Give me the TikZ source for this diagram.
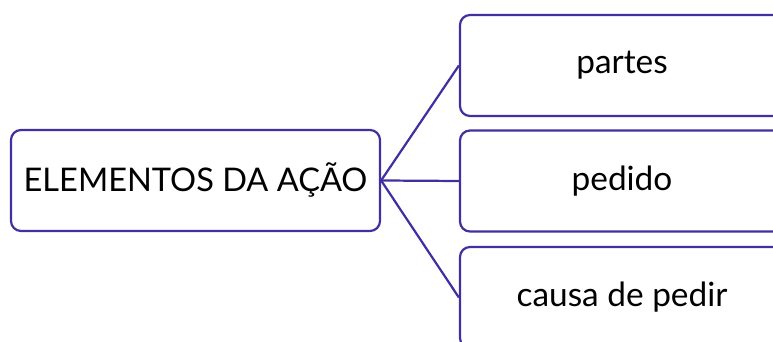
\documentclass[tikz,border=0pt]{standalone}
\usepackage{fontspec}
\setmainfont{Lato}
\usepackage{tikz}
\definecolor{roxo}{RGB}{64,48,160}
\tikzset{
  caixa/.style={shape=rectangle,draw=roxo,line width=1.9pt,rounded corners=0.3cm,
    inner sep=0pt,minimum height=3.03cm,font=\fontsize{28.5}{32}\selectfont},
  ramo/.style={draw=roxo,line width=1.9pt}
}

\begin{document}
\begin{tikzpicture}
\useasboundingbox (0,0) rectangle (23.19,10.26);
\path node (elem) at (5.865,4.845) [caixa,minimum width=11.07cm,font=\fontsize{27.8}{32}\selectfont] {ELEMENTOS DA AÇÃO}
      node (partes) at (18.66,8.295) [caixa,minimum width=9.72cm] {partes}
      node (pedido) at (18.66,4.83) [caixa,minimum width=9.72cm] {pedido}
      node (causa) at (18.66,1.335) [caixa,minimum width=9.72cm] {causa de pedir};
\draw [ramo] (elem.east) to (partes.west);
\draw [ramo] (elem.east) to (pedido.west);
\draw [ramo] (elem.east) to (causa.west);
\end{tikzpicture}
\end{document}
